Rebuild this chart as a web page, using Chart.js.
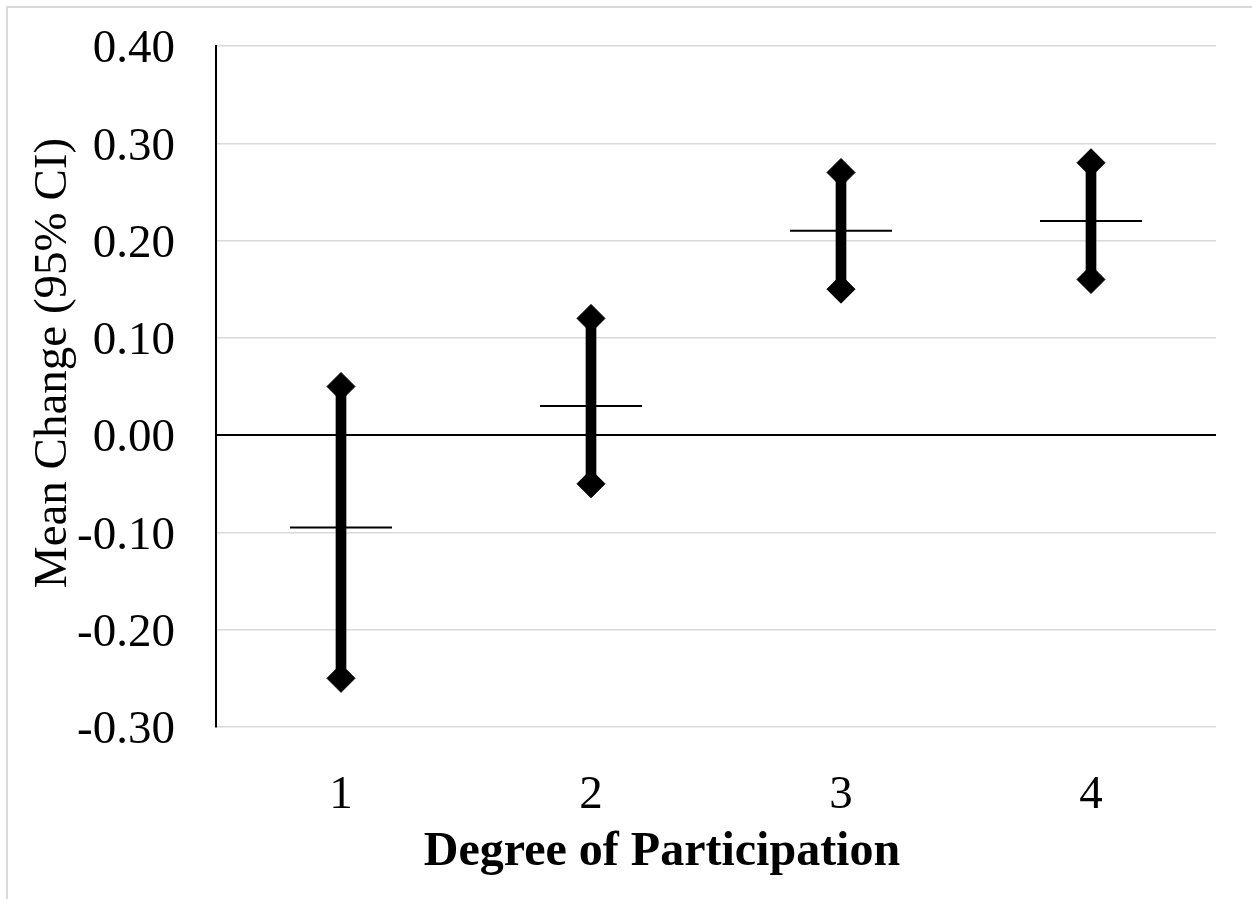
<!DOCTYPE html>
<html>
<head>
<meta charset="utf-8">
<script src="https://cdn.jsdelivr.net/npm/chart.js@4.4.1/dist/chart.umd.min.js"></script>
<style>
  html, body { margin: 0; padding: 0; background: #fff; overflow: hidden; }
  #frame { position: absolute; left: 6px; top: 6px; width: 1300px; height: 1000px; border: 2px solid #d9d9d9; }
  #wrap { position: absolute; left: 0; top: 0; width: 1252px; height: 899px; }
</style>
</head>
<body>
<div id="frame"></div>
<div id="wrap"><canvas id="ciChart" width="1252" height="899"></canvas></div>
<script>
  // degree of participation vs mean change with 95% CI
  const categories = ['1', '2', '3', '4'];
  const lowCI  = [-0.25, -0.05, 0.15, 0.16];
  const highCI = [0.05, 0.12, 0.27, 0.28];
  const means  = [-0.095, 0.03, 0.21, 0.22];
  const yTicks = [-0.3, -0.2, -0.1, 0, 0.1, 0.2, 0.3, 0.4];

  const serif = "'Liberation Serif', 'Times New Roman', serif";
  const nb = '\u00A0';
  const ctx = document.getElementById('ciChart').getContext('2d');

  const ciChart = new Chart(ctx, {
    type: 'bar',
    data: {
      labels: categories,
      datasets: [
        {
          type: 'line',
          label: 'Mean',
          data: means,
          showLine: false,
          pointStyle: 'line',
          pointRadius: 51,
          pointBorderWidth: 2,
          borderColor: '#000',
          backgroundColor: '#000',
          order: 0
        },
        {
          type: 'line',
          label: 'High',
          data: highCI,
          showLine: false,
          pointStyle: 'rectRot',
          pointRadius: 14,
          pointBorderWidth: 1,
          borderColor: '#000',
          backgroundColor: '#000',
          order: 1
        },
        {
          type: 'line',
          label: 'Low',
          data: lowCI,
          showLine: false,
          pointStyle: 'rectRot',
          pointRadius: 14,
          pointBorderWidth: 1,
          borderColor: '#000',
          backgroundColor: '#000',
          order: 2
        },
        {
          label: 'CI',
          data: lowCI.map((l, i) => [l, highCI[i]]),
          backgroundColor: '#000',
          barThickness: 10,
          grouped: false,
          order: 3
        }
      ]
    },
    options: {
      responsive: false,
      animation: false,
      layout: { autoPadding: false, padding: { left: 0, right: 36, top: 46, bottom: 0 } },
      plugins: {
        legend: { display: false },
        tooltip: { enabled: false }
      },
      scales: {
        x: {
          offset: true,
          grid: { display: false, drawTicks: false },
          border: { display: false },
          ticks: {
            color: '#000',
            padding: 40,
            font: { family: serif, size: 47 }
          },
          title: {
            display: true,
            // trailing spaces nudge the title left like the original
            text: 'Degree of Participation' + nb.repeat(9),
            color: '#000',
            padding: { top: 0, bottom: 18 },
            font: { family: serif, size: 48, weight: 'bold' }
          },
          afterFit: (scale) => { scale.height = 172; }
        },
        y: {
          min: -0.3,
          max: 0.4,
          afterBuildTicks: (scale) => { scale.ticks = yTicks.map(v => ({ value: v })); },
          grid: {
            drawTicks: false,
            color: (c) => c.tick && Math.abs(c.tick.value) < 1e-9 ? '#000' : '#d9d9d9',
            lineWidth: (c) => c.tick && Math.abs(c.tick.value) < 1e-9 ? 2 : 1.5
          },
          border: { display: true, color: '#000', width: 2 },
          ticks: {
            color: '#000',
            padding: 41,
            labelOffset: 4,
            font: { family: serif, size: 47 },
            callback: (v) => Number(v).toFixed(2)
          },
          title: {
            display: true,
            text: nb.repeat(4) + 'Mean Change (95% CI)',
            color: '#000',
            padding: { top: 25, bottom: 0 },
            font: { family: serif, size: 47 }
          },
          afterFit: (scale) => {
            scale.width = 216;
            scale.paddingTop = 0;
            scale.paddingBottom = 0;
          }
        }
      }
    }
  });
</script>
</body>
</html>
